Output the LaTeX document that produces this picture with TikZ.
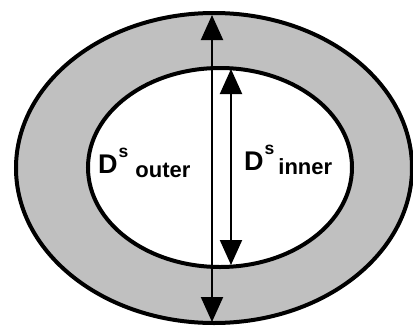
\documentclass[tikz,border=0pt]{standalone}
\usepackage{fontspec}
\setmainfont{Liberation Sans}
\usetikzlibrary{arrows.meta,shapes.geometric}
\definecolor{Ring}{HTML}{C0C0C0}
\newcommand{\dlabel}[2]{{\fontsize{27}{27}\selectfont\bfseries D}\kern1pt\raisebox{16pt}{\fontsize{17.5}{17.5}\selectfont\bfseries s}\kern#2\raisebox{-4pt}{\fontsize{22}{22}\selectfont\bfseries #1}}
\tikzset{
  rim/.style={ellipse,draw=black,line width=4pt,inner sep=0pt,outer sep=0pt},
  dim/.style={{Triangle[length=25pt,width=22pt]}-{Triangle[length=25pt,width=22pt]},line width=2pt,draw=black},
  lbl/.style={inner sep=0pt,anchor=base west},
}
\begin{document}
\begin{tikzpicture}[x=1pt,y=-1pt]
 \useasboundingbox (0,0) rectangle (413,325);
 \node[rim,fill=Ring,minimum width=396pt,minimum height=310pt] (ringout) at (214,168) {};
 \node[rim,fill=white,minimum width=264pt,minimum height=199pt] (ringin) at (220,167.5) {};
 % diameter arrows
 \coordinate (ot) at (212,15); \coordinate (ob) at (212,322);
 \coordinate (it) at (231,69); \coordinate (ib) at (231,265);
 \draw[dim] (ot) -- (ob);
 \draw[dim] (it) -- (ib);
 \node[lbl] (louter) at (98,173) {\dlabel{outer}{7pt}};
 \node[lbl] (linner) at (244,170) {\dlabel{inner}{4pt}};
\end{tikzpicture}
\end{document}
